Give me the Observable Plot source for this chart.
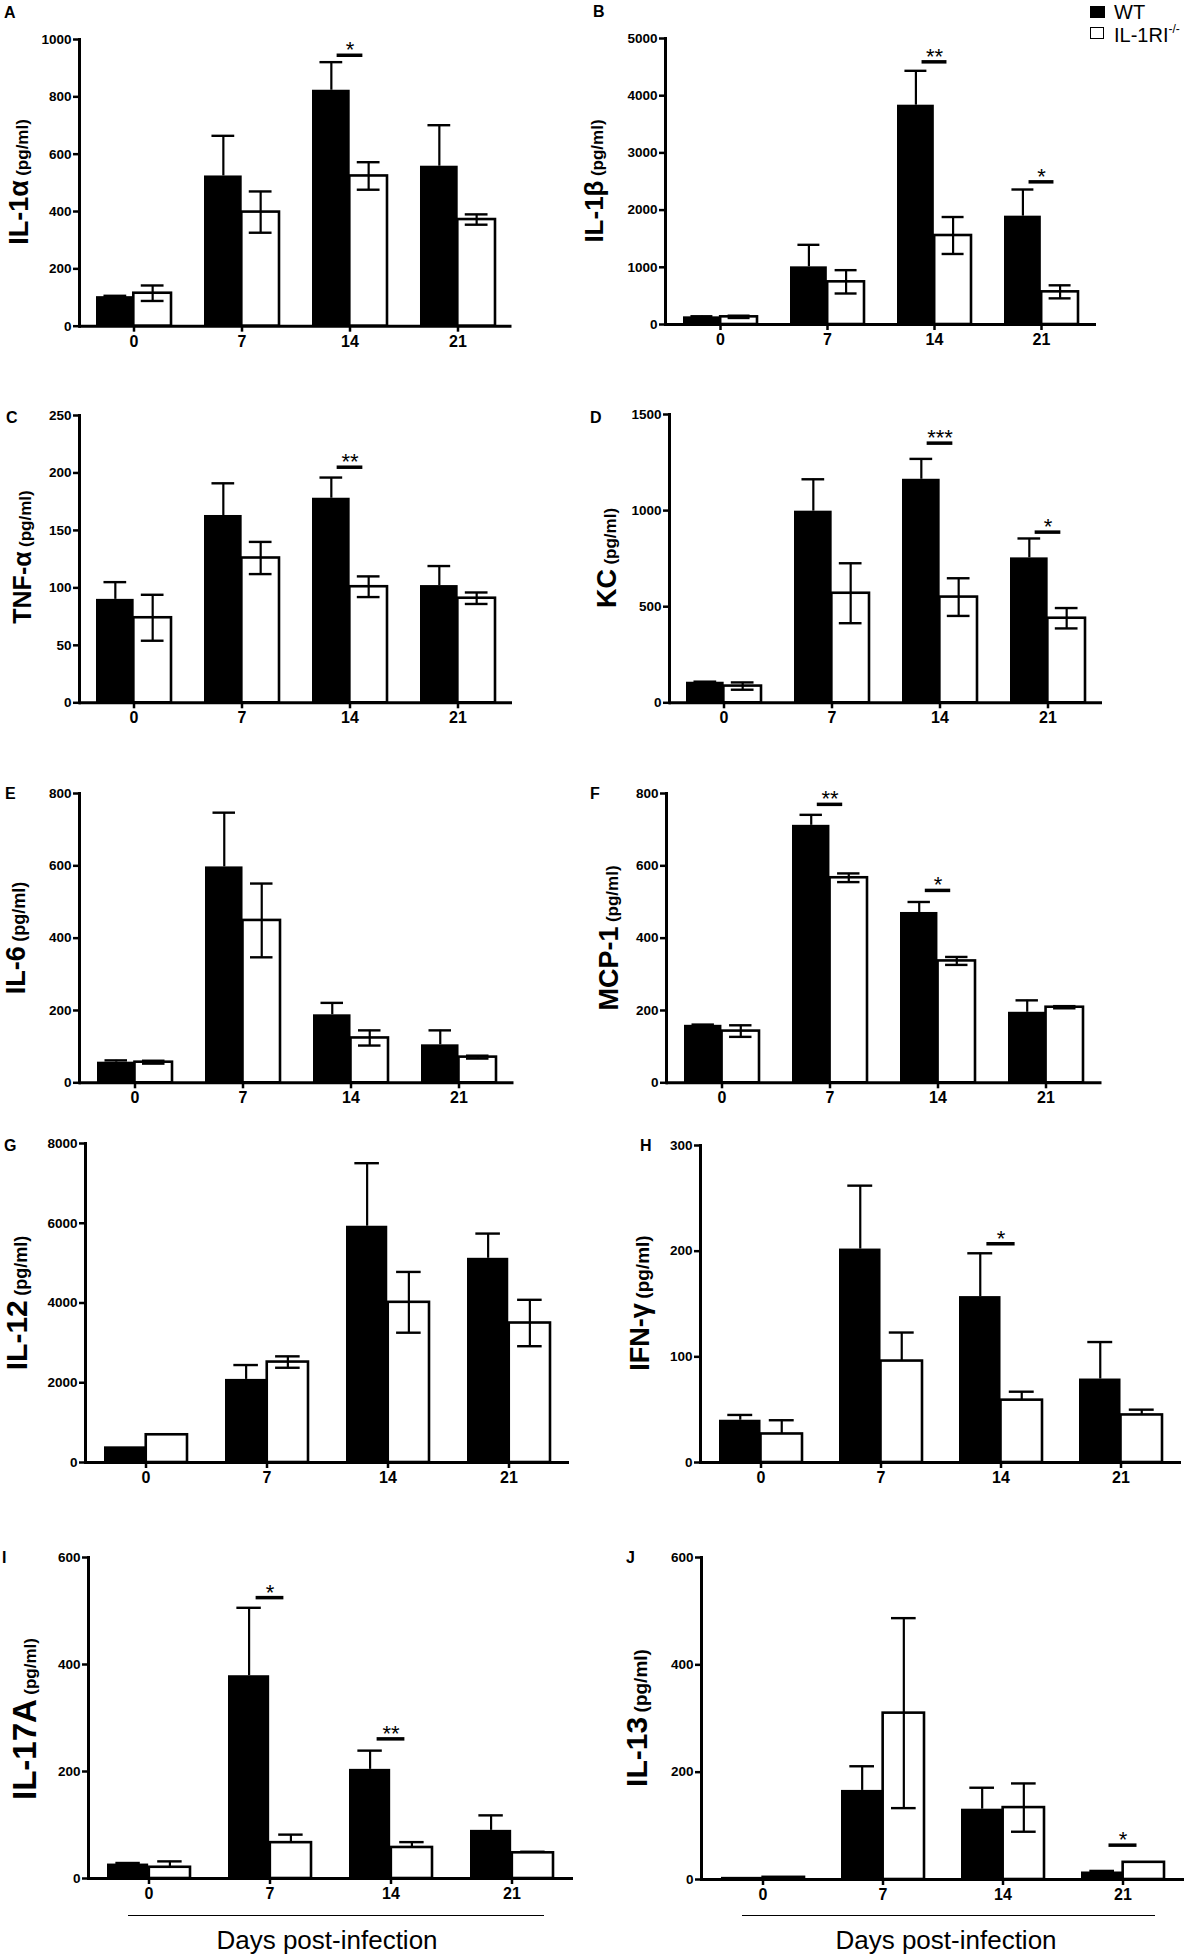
<!DOCTYPE html>
<html>
<head>
<meta charset="utf-8">
<script src="https://cdn.jsdelivr.net/npm/d3@7"></script>
<script src="https://cdn.jsdelivr.net/npm/@observablehq/plot@0.6"></script>
<style>
  html, body { margin: 0; padding: 0; background: #fff; }
  #root { position: relative; width: 1192px; height: 1959px; background: #fff; overflow: hidden;
          font-family: "Liberation Sans", Arial, Helvetica, sans-serif; color: #000; }
  .abs { position: absolute; }
  .letter { position: absolute; font-weight: bold; font-size: 16px; line-height: 1; }
  .ylab { position: absolute; white-space: nowrap; font-weight: bold; line-height: 1;
          transform: translate(-50%, -50%) rotate(-90deg); }
  .xlab { position: absolute; white-space: nowrap; font-size: 26px; line-height: 1; transform: translate(-50%, -50%); }
  .uline { position: absolute; border-top: 1.3px solid #000; height: 0; }
  svg { overflow: visible; }
</style>
</head>
<body>
<div id="root"></div>
<script>
// ---------------- DATA ----------------
const days = ["0", "7", "14", "21"];

// A  IL-1α
const il1aWT = [103, 524, 823, 558];
const il1aWTsem = [3, 140, 98, 143];
const il1aKO = [115, 398, 524, 372];
const il1aKOsem = [27, 72, 48, 18];
const il1aTicks = [0, 200, 400, 600, 800, 1000];
const il1aSig = [{day: "14", y: 945, text: "*"}];

// B  IL-1β
const il1bWT = [134, 1008, 3834, 1894];
const il1bWTsem = [10, 385, 601, 466];
const il1bKO = [134, 746, 1556, 571];
const il1bKOsem = [20, 204, 323, 114];
const il1bTicks = [0, 1000, 2000, 3000, 4000, 5000];
const il1bSig = [{day: "14", y: 4592, text: "**"}, {day: "21", y: 2494, text: "*"}];

// C  TNF-α
const tnfWT = [90, 163, 178, 102];
const tnfWTsem = [15, 28, 18, 17];
const tnfKO = [74, 126, 101, 91];
const tnfKOsem = [20, 14, 9, 5];
const tnfTicks = [0, 50, 100, 150, 200, 250];
const tnfSig = [{day: "14", y: 205, text: "**"}];

// D  KC
const kcWT = [107, 997, 1163, 754];
const kcWTsem = [3, 166, 106, 101];
const kcKO = [87, 570, 550, 440];
const kcKOsem = [19, 156, 98, 53];
const kcTicks = [0, 500, 1000, 1500];
const kcSig = [{day: "14", y: 1351, text: "***"}, {day: "21", y: 888, text: "*"}];

// E  IL-6
const il6WT = [57, 597, 188, 105];
const il6WTsem = [5, 150, 33, 40];
const il6KO = [57, 449, 124, 71];
const il6KOsem = [4, 102, 21, 4];
const il6Ticks = [0, 200, 400, 600, 800];
const il6Sig = [];

// F  MCP-1
const mcpWT = [159, 712, 471, 195];
const mcpWTsem = [2, 29, 29, 33];
const mcpKO = [143, 567, 337, 209];
const mcpKOsem = [16, 12, 11, 3];
const mcpTicks = [0, 200, 400, 600, 800];
const mcpSig = [{day: "7", y: 770, text: "**"}, {day: "14", y: 532, text: "*"}];

// G  IL-12
const il12WT = [393, 2084, 5925, 5121];
const il12WTsem = [0, 360, 1581, 620];
const il12KO = [695, 2519, 4017, 3498];
const il12KOsem = [0, 143, 762, 582];
const il12Ticks = [0, 2000, 4000, 6000, 8000];
const il12Sig = [];

// H  IFN-γ
const ifnWT = [40, 202, 157, 79];
const ifnWTsem = [5, 60, 41, 35];
const ifnKO = [27, 96, 59, 45];
const ifnKOsem = [13, 27, 8, 5];
const ifnTicks = [0, 100, 200, 300];
const ifnSig = [{day: "14", y: 207, text: "*"}];

// I  IL-17A
const il17WT = [27, 379, 204, 90];
const il17WTsem = [2, 127, 35, 28];
const il17KO = [21, 67, 58, 48];
const il17KOsem = [11, 15, 10, 2];
const il17Ticks = [0, 200, 400, 600];
const il17Sig = [{day: "7", y: 525, text: "*"}, {day: "14", y: 261, text: "**"}];

// J  IL-13
const il13WT = [4, 166, 131, 14];
const il13WTsem = [0, 45, 40, 2];
const il13KO = [4, 310, 134, 32];
const il13KOsem = [0, 177, 45, 0];
const il13Ticks = [0, 200, 400, 600];
const il13Sig = [{day: "21", y: 64, text: "*"}];

const groups = ["WT", "IL-1RI"];
const xTitle = "Days post-infection";

// ---------------- LAYOUT ----------------
const root = document.getElementById("root");
const PAD = 0.31;

const panels = [
  {letter: "A", lx: 4, ly: 5, name: "IL-1α", bs: 27, ss: 17, cx: 19, cy: 182,
   wt: il1aWT, wtSem: il1aWTsem, ko: il1aKO, koSem: il1aKOsem, ticks: il1aTicks, sig: il1aSig, two: true,
   axis: 78.5, end: 511, top: 39.3, zero: 326},
  {letter: "B", lx: 593, ly: 4, name: "IL-1β", bs: 26, ss: 17, cx: 594, cy: 181,
   wt: il1bWT, wtSem: il1bWTsem, ko: il1bKO, koSem: il1bKOsem, ticks: il1bTicks, sig: il1bSig, two: true,
   axis: 664.7, end: 1095.7, top: 38.3, zero: 324.3},
  {letter: "C", lx: 6, ly: 410, name: "TNF-α", bs: 25, ss: 17, cx: 22, cy: 557,
   wt: tnfWT, wtSem: tnfWTsem, ko: tnfKO, koSem: tnfKOsem, ticks: tnfTicks, sig: tnfSig, two: true,
   axis: 78.5, end: 511.5, top: 415, zero: 702.3},
  {letter: "D", lx: 590, ly: 410, name: "KC", bs: 27, ss: 17, cx: 607, cy: 558,
   wt: kcWT, wtSem: kcWTsem, ko: kcKO, koSem: kcKOsem, ticks: kcTicks, sig: kcSig, two: true,
   axis: 668.5, end: 1101.5, top: 414, zero: 702.3},
  {letter: "E", lx: 5, ly: 786, name: "IL-6", bs: 27, ss: 18, cx: 16, cy: 938,
   wt: il6WT, wtSem: il6WTsem, ko: il6KO, koSem: il6KOsem, ticks: il6Ticks, sig: il6Sig, two: true,
   axis: 78.5, end: 513, top: 793, zero: 1082.3},
  {letter: "F", lx: 590, ly: 786, name: "MCP-1", bs: 27, ss: 17, cx: 609, cy: 938,
   wt: mcpWT, wtSem: mcpWTsem, ko: mcpKO, koSem: mcpKOsem, ticks: mcpTicks, sig: mcpSig, two: true,
   axis: 666, end: 1101.5, top: 793, zero: 1082.3},
  {letter: "G", lx: 4, ly: 1138, name: "IL-12", bs: 30, ss: 18, cx: 17, cy: 1303,
   wt: il12WT, wtSem: il12WTsem, ko: il12KO, koSem: il12KOsem, ticks: il12Ticks, sig: il12Sig, two: true,
   axis: 85, end: 569, top: 1143, zero: 1462},
  {letter: "H", lx: 640, ly: 1138, name: "IFN-γ", bs: 27, ss: 19, cx: 640, cy: 1303,
   wt: ifnWT, wtSem: ifnWTsem, ko: ifnKO, koSem: ifnKOsem, ticks: ifnTicks, sig: ifnSig, two: false,
   axis: 700, end: 1181, top: 1145, zero: 1462},
  {letter: "I", lx: 2, ly: 1550, name: "IL-17A", bs: 33, ss: 17, cx: 24, cy: 1719,
   wt: il17WT, wtSem: il17WTsem, ko: il17KO, koSem: il17KOsem, ticks: il17Ticks, sig: il17Sig, two: false,
   axis: 88, end: 573, top: 1557, zero: 1878, xl: {x1: 128, x2: 544, y: 1915, cx: 327, cy: 1940}},
  {letter: "J", lx: 626, ly: 1550, name: "IL-13", bs: 30, ss: 19, cx: 637, cy: 1718,
   wt: il13WT, wtSem: il13WTsem, ko: il13KO, koSem: il13KOsem, ticks: il13Ticks, sig: il13Sig, two: true,
   axis: 701, end: 1184, top: 1557, zero: 1879, xl: {x1: 742, x2: 1155, y: 1915, cx: 946, cy: 1940}}
];

function addDiv(cls, html, styles) {
  const d = document.createElement("div");
  d.className = cls;
  d.innerHTML = html;
  Object.assign(d.style, styles);
  root.appendChild(d);
  return d;
}

for (const p of panels) {
  const mL = 52, mR = 8, mT = 14, mB = 42;
  const W = p.end - p.axis;
  const H = p.zero - p.top;
  const step = W / days.length;
  const bw = step * (1 - PAD);
  const half = bw / 2, q = bw / 4;
  const capIn = (bw - 0.3 * bw) / 2;
  const sigIn = (bw - 0.34 * bw) / 2;
  const wt = days.map((d, i) => ({day: d, g: groups[0], v: p.wt[i], e: p.wtSem[i]}));
  const ko = days.map((d, i) => ({day: d, g: groups[1], v: p.ko[i], e: p.koSem[i]}));
  const wtE = wt.filter(d => d.e > 0);
  const koE = ko.filter(d => d.e > 0);
  const yMax = p.ticks[p.ticks.length - 1];

  const marks = [
    Plot.barY(wt, {x: "day", y: "v", fill: "#000", insetRight: half}),
    Plot.barY(ko, {x: "day", y: "v", fill: "#fff", stroke: "#000", strokeWidth: 2.6, insetLeft: half}),
    Plot.ruleX(wtE, {x: "day", y1: "v", y2: d => d.v + d.e, dx: -q, strokeWidth: 2.2}),
    Plot.tickY(wtE, {x: "day", y: d => d.v + d.e, dx: -q, insetLeft: capIn, insetRight: capIn, strokeWidth: 2.4}),
    Plot.ruleX(koE, {x: "day", y1: d => p.two ? d.v - d.e : d.v, y2: d => d.v + d.e, dx: q, strokeWidth: 2.2}),
    Plot.tickY(koE, {x: "day", y: d => d.v + d.e, dx: q, insetLeft: capIn, insetRight: capIn, strokeWidth: 2.4})
  ];
  if (p.two) marks.push(Plot.tickY(koE, {x: "day", y: d => d.v - d.e, dx: q, insetLeft: capIn, insetRight: capIn, strokeWidth: 2.4}));
  if (p.sig.length) {
    marks.push(Plot.tickY(p.sig, {x: "day", y: "y", insetLeft: sigIn, insetRight: sigIn, strokeWidth: 3.5}));
    marks.push(Plot.text(p.sig, {x: "day", y: "y", text: "text", dy: -5, fontSize: 22, fontWeight: "normal", ariaLabel: "sig"}));
  }
  marks.push(
    Plot.ruleY([0], {strokeWidth: 3}),
    Plot.frame({anchor: "left", strokeWidth: 3}),
    Plot.axisY({ticks: p.ticks, tickFormat: d => String(d), tickSize: 6, tickPadding: 2, strokeWidth: 2.5,
                fontSize: 13.5, fontWeight: "bold", label: null}),
    Plot.axisX({tickSize: 6, tickPadding: 3, strokeWidth: 2.5, fontSize: 16, fontWeight: "bold", label: null})
  );

  const chart = Plot.plot({
    width: mL + W + mR,
    height: mT + H + mB,
    marginLeft: mL, marginRight: mR, marginTop: mT, marginBottom: mB,
    x: {domain: days, paddingInner: PAD, paddingOuter: PAD / 2, label: null},
    y: {domain: [0, yMax], label: null},
    style: {fontFamily: '"Liberation Sans", Arial, sans-serif', fontWeight: "bold", fontSize: "13.5px", background: "transparent", color: "#000", overflow: "visible"},
    marks
  });
  // enforce tick-label font sizes
  const sel = d3.select(chart);
  sel.selectAll('[aria-label*="x-axis"] text').style("font-size", "16px").style("font-weight", "bold");
  sel.selectAll('[aria-label*="y-axis"] text').style("font-size", "13.5px").style("font-weight", "bold");
  sel.selectAll('[aria-label="sig"] text').style("font-size", "22px").style("font-weight", "normal");
  chart.style.position = "absolute";
  chart.style.left = (p.axis - mL) + "px";
  chart.style.top = (p.top - mT) + "px";
  root.appendChild(chart);

  addDiv("letter", p.letter, {left: p.lx + "px", top: p.ly + "px"});
  addDiv("ylab", `<span style="font-size:${p.bs}px">${p.name}</span> <span style="font-size:${p.ss}px">(pg/ml)</span>`,
         {left: p.cx + "px", top: p.cy + "px"});
  if (p.xl) {
    addDiv("uline", "", {left: p.xl.x1 + "px", top: p.xl.y + "px", width: (p.xl.x2 - p.xl.x1) + "px"});
    addDiv("xlab", xTitle, {left: p.xl.cx + "px", top: p.xl.cy + "px"});
  }
}

// legend
addDiv("abs", "", {left: "1090px", top: "6px", width: "15px", height: "12px", background: "#000"});
addDiv("abs", "", {left: "1090px", top: "27px", width: "12px", height: "10px", border: "1.6px solid #000", background: "#fff"});
addDiv("abs", groups[0], {left: "1114px", top: "2px", fontSize: "20px", lineHeight: "1"});
addDiv("abs", groups[1] + "<sup style='font-size:12px;vertical-align:9px'>-/-</sup>", {left: "1114px", top: "23px", fontSize: "20px", lineHeight: "1", whiteSpace: "nowrap"});
</script>
</body>
</html>
